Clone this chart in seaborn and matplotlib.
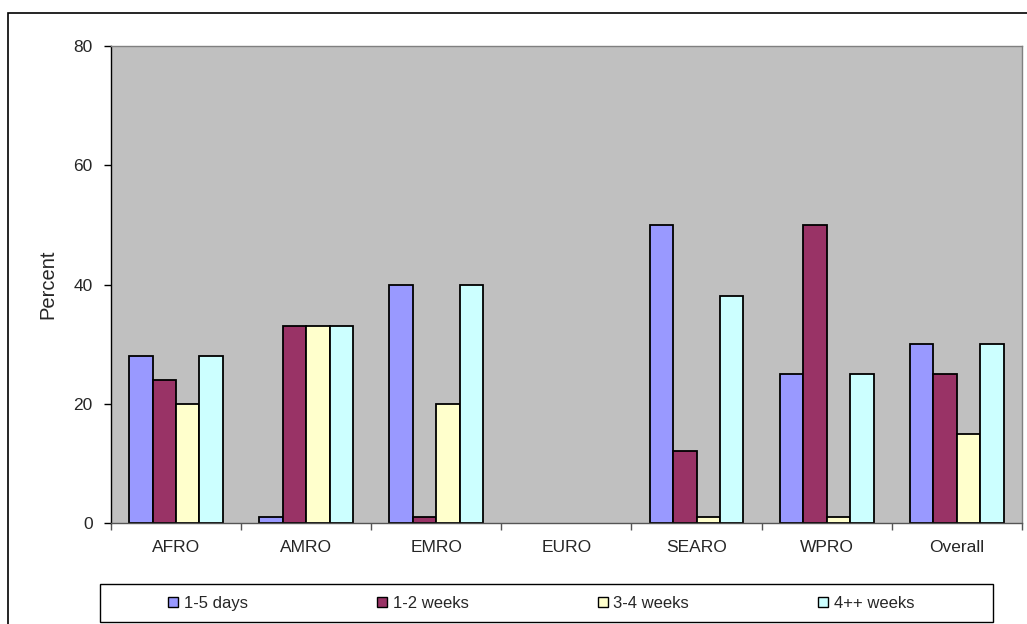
import numpy as np
import pandas as pd
import matplotlib
matplotlib.use("Agg")
import matplotlib.pyplot as plt
import matplotlib.patches as mpatches
import seaborn as sns

regions = ["AFRO", "AMRO", "EMRO", "EURO", "SEARO", "WPRO", "Overall"]
durations = ["1-5 days", "1-2 weeks", "3-4 weeks", "4++ weeks"]
days_1_5 = [28, 1, 40, np.nan, 50, 25, 30]
weeks_1_2 = [24, 33, 1, np.nan, 12, 50, 25]
weeks_3_4 = [20, 33, 20, np.nan, 1, 1, 15]
weeks_4_plus = [28, 33, 40, np.nan, 38, 25, 30]
legend_labels = ["1-5 days", "1-2 weeks", "3-4 weeks", "4++ weeks"]
y_ticks = [0, 20, 40, 60, 80]

colors = ["#9999FF", "#993366", "#FFFFCC", "#CCFFFF"]

df = pd.DataFrame({
    "Region": regions * 4,
    "Duration": np.repeat(durations, len(regions)),
    "Percent": days_1_5 + weeks_1_2 + weeks_3_4 + weeks_4_plus,
})

sns.set_theme(style="white")
plt.rcParams["font.family"] = ["Liberation Sans", "DejaVu Sans"]

fig = plt.figure(figsize=(10.27, 6.24), dpi=100)
ax = fig.add_axes([0.108, 0.162, 0.887, 0.764])
ax.set_facecolor("#C0C0C0")

sns.barplot(data=df, x="Region", y="Percent", hue="Duration",
            order=regions, hue_order=durations, palette=colors,
            width=0.72, edgecolor="black", linewidth=1.3,
            saturation=1, ax=ax, legend=False)

ax.set_ylim(0, 80)
ax.set_xlim(-0.5, len(regions) - 0.5)
ax.set_yticks(y_ticks)
ax.set_xlabel("")
ax.set_ylabel("Percent", fontsize=14.5, labelpad=12)
ax.tick_params(axis="y", which="major", direction="out", length=5, width=1,
               color="black", labelsize=12.5, pad=8, left=True)
ax.tick_params(axis="x", which="major", length=0, labelsize=12.5, pad=12)
ax.set_xticks(np.arange(-0.5, len(regions), 1.0), minor=True)
ax.tick_params(axis="x", which="minor", direction="out", length=5, width=1,
               color="#555555", bottom=True)

for name, sp in ax.spines.items():
    sp.set_visible(True)
    sp.set_linewidth(1)
ax.spines["left"].set_color("black")
ax.spines["bottom"].set_color("#555555")
ax.spines["top"].set_color("#808080")
ax.spines["right"].set_color("#808080")

# outer chart frame
fig.patches.append(mpatches.Rectangle((0.008, -0.1), 1.5, 0.979 + 0.1,
                                      transform=fig.transFigure, fill=False,
                                      edgecolor="black", linewidth=1.2))

# legend frame box
fig.patches.append(mpatches.Rectangle((0.097, 0.003), 0.870, 0.061,
                                      transform=fig.transFigure, fill=False,
                                      edgecolor="black", linewidth=1))

handles = [mpatches.Patch(facecolor=c, edgecolor="black", linewidth=1)
           for c in colors]
leg = fig.legend(handles, legend_labels, loc="center",
                 bbox_to_anchor=(0.527, 0.033),
                 ncol=4, frameon=False,
                 handlelength=0.6, handleheight=0.6, handletextpad=0.35,
                 columnspacing=7.75, borderaxespad=0,
                 prop={"size": 12})

fig.savefig("out.png", dpi=100)
